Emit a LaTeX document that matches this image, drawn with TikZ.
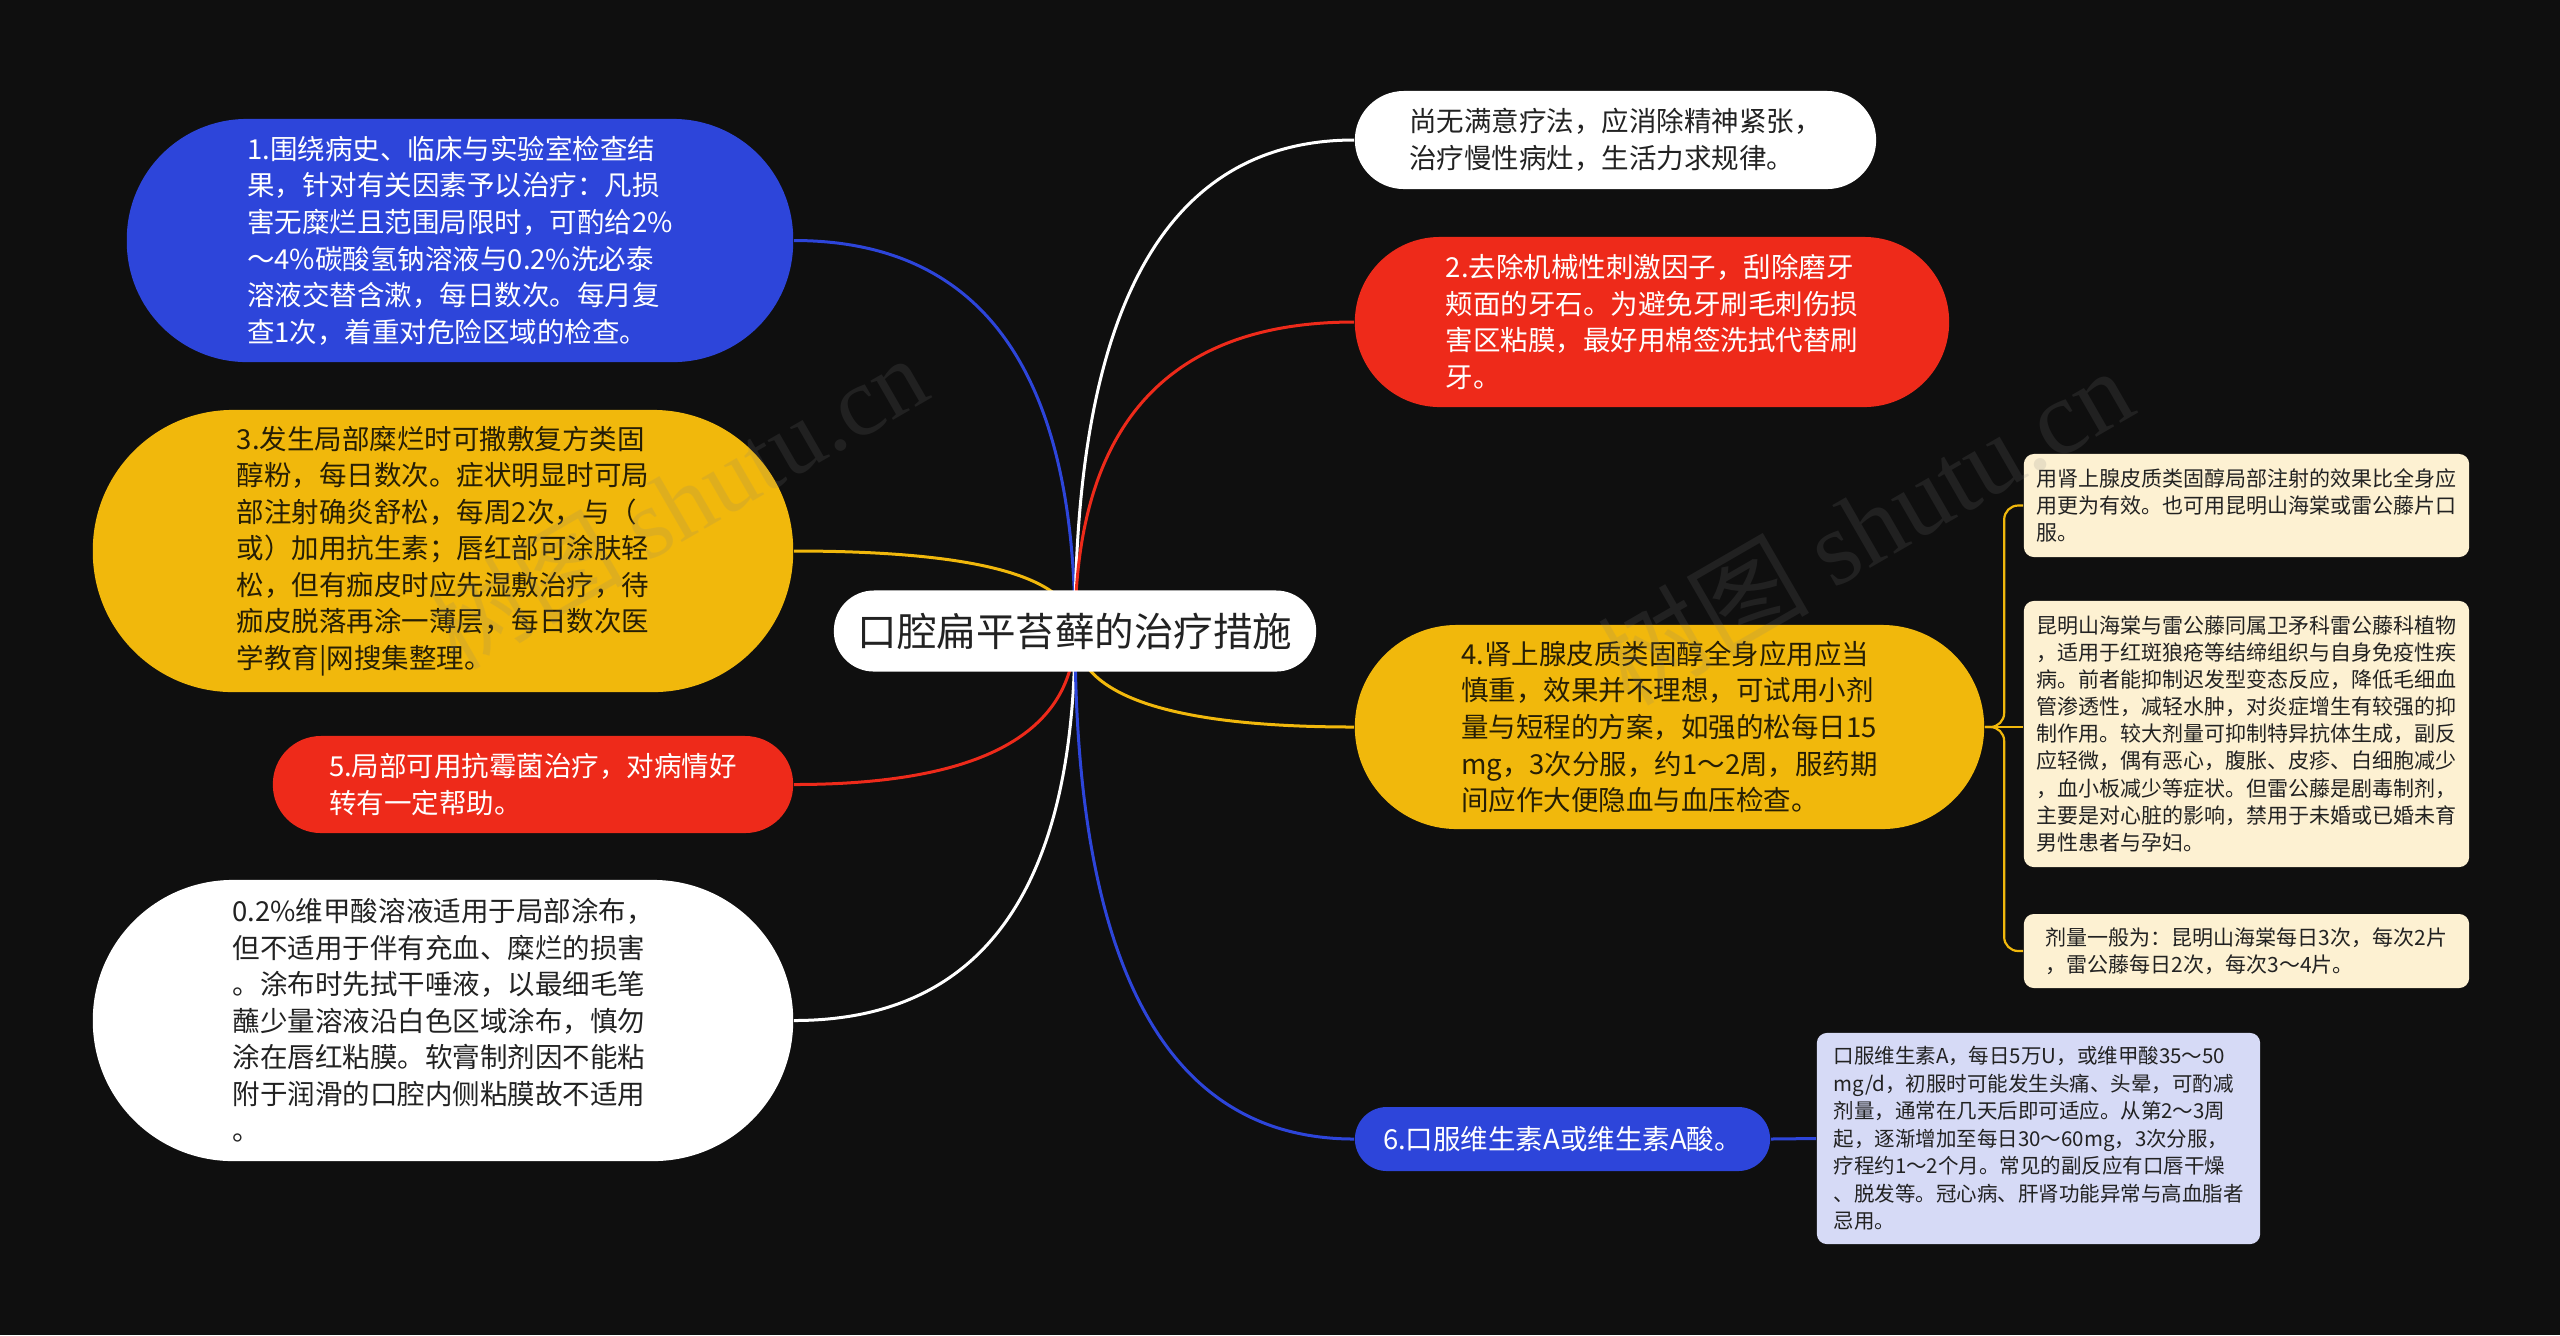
\documentclass[tikz,border=0pt]{standalone}
\usepackage{fontspec}
\setmainfont{Noto Sans CJK SC}
\newfontfamily\wmserif{Liberation Serif}
\usetikzlibrary{calc,backgrounds}
\definecolor{bgc}{HTML}{0F0F0F}
\definecolor{cblue}{HTML}{2D45DA}
\definecolor{cred}{HTML}{EE2A1A}
\definecolor{cyel}{HTML}{F1B80C}
\definecolor{ccream}{HTML}{FDF1D2}
\definecolor{clav}{HTML}{D6DAF6}
\definecolor{cdark}{HTML}{222222}
\definecolor{cydark}{HTML}{261E05}
\newcommand\fsroot{\fontsize{11.24pt}{13pt}\selectfont}
\newcommand\fsmain{\fontsize{7.82pt}{10.39pt}\selectfont}
\newcommand\fsleaf{\fontsize{5.97pt}{7.68pt}\selectfont}
\newcommand\fsleafd{\fontsize{5.83pt}{7.82pt}\selectfont}
\newcommand\qconn[3]{%
  \coordinate (ctl#2) at (root.center |- #2.#3);
  \draw[#1] (root.center) .. controls ($(root.center)!0.6667!(ctl#2)$) and ($(#2.#3)!0.6667!(ctl#2)$) .. (#2.#3);}
\tikzset{
  pill/.style n args={3}{minimum width=#1cm, minimum height=#2cm, rounded corners=#3cm, inner sep=0pt, align=left},
  leafbox/.style n args={2}{minimum width=#1cm, minimum height=#2cm, rounded corners=0.1cm, inner sep=0pt, align=left, font=\fsleaf, text=cdark},
  conn/.style={line width=0.03cm},
  lconn/.style={line width=0.022cm, cyel, rounded corners=0.14cm},
  wm/.style={rotate=30, opacity=0.16, text=gray}
}
\begin{document}
\begin{tikzpicture}[x=0.01cm, y=-0.01cm]
\useasboundingbox (0,0) rectangle (2560,1335);

% root
\node[pill={4.82}{0.81}{0.40}, fill=white, text=cdark, font=\fsroot] (root) at (1075,631) {口腔扁平苔藓的治疗措施};

% left children
\node[pill={6.66}{2.43}{1.20}, fill=cblue, text=white, font=\fsmain] (n1) at (460,240.5) {1.围绕病史、临床与实验室检查结\\果，针对有关因素予以治疗：凡损\\害无糜烂且范围局限时，可酌给2\%\\～4\%碳酸氢钠溶液与0.2\%洗必泰\\溶液交替含漱，每日数次。每月复\\查1次，着重对危险区域的检查。};

\node[pill={7.00}{2.82}{1.40}, fill=cyel, text=cydark, font=\fsmain] (n3) at (443,551) {3.发生局部糜烂时可撒敷复方类固\\醇粉，每日数次。症状明显时可局\\部注射确炎舒松，每周2次，与（\\或）加用抗生素；唇红部可涂肤轻\\松，但有痂皮时应先湿敷治疗，待\\痂皮脱落再涂一薄层，每日数次医\\学教育|网搜集整理。};

\node[pill={5.20}{0.97}{0.48}, fill=cred, text=white, font=\fsmain] (n5) at (533,784.5) {5.局部可用抗霉菌治疗，对病情好\\转有一定帮助。};

\node[pill={7.00}{2.81}{1.40}, fill=white, text=cdark, font=\fsmain] (nw) at (443,1020.5) {0.2\%维甲酸溶液适用于局部涂布，\\但不适用于伴有充血、糜烂的损害\\。涂布时先拭干唾液，以最细毛笔\\蘸少量溶液沿白色区域涂布，慎勿\\涂在唇红粘膜。软膏制剂因不能粘\\附于润滑的口腔内侧粘膜故不适用\\。};

% right children
\node[pill={5.21}{0.98}{0.49}, fill=white, text=cdark, font=\fsmain] (nt) at (1615.5,140) {尚无满意疗法，应消除精神紧张，\\治疗慢性病灶，生活力求规律。};

\node[pill={5.94}{1.70}{0.85}, fill=cred, text=white, font=\fsmain] (n2) at (1652,322) {2.去除机械性刺激因子，刮除磨牙\\颊面的牙石。为避免牙刷毛刺伤损\\害区粘膜，最好用棉签洗拭代替刷\\牙。};

\node[pill={6.29}{2.04}{1.02}, fill=cyel, text=cydark, font=\fsmain] (n4) at (1669.5,727) {4.肾上腺皮质类固醇全身应用应当\\慎重，效果并不理想，可试用小剂\\量与短程的方案，如强的松每日15\\mg，3次分服，约1～2周，服药期\\间应作大便隐血与血压检查。};

\node[pill={4.15}{0.64}{0.32}, fill=cblue, text=white, font=\fsmain] (n6) at (1562.5,1139) {6.口服维生素A或维生素A酸。};

% leaves
\node[leafbox={4.45}{1.03}, fill=ccream] (la) at (2246.5,505.5) {用肾上腺皮质类固醇局部注射的效果比全身应\\用更为有效。也可用昆明山海棠或雷公藤片口\\服。};

\node[leafbox={4.45}{2.66}, fill=ccream] (lb) at (2246.5,734) {昆明山海棠与雷公藤同属卫矛科雷公藤科植物\\，适用于红斑狼疮等结缔组织与自身免疫性疾\\病。前者能抑制迟发型变态反应，降低毛细血\\管渗透性，减轻水肿，对炎症增生有较强的抑\\制作用。较大剂量可抑制特异抗体生成，副反\\应轻微，偶有恶心，腹胀、皮疹、白细胞减少\\，血小板减少等症状。但雷公藤是剧毒制剂，\\主要是对心脏的影响，禁用于未婚或已婚未育\\男性患者与孕妇。};

\node[leafbox={4.45}{0.74}, fill=ccream] (lc) at (2246.5,951) {剂量一般为：昆明山海棠每日3次，每次2片\\，雷公藤每日2次，每次3～4片。};

\node[leafbox={4.43}{2.11}, fill=clav, font=\fsleafd] (ld) at (2038.5,1138.5) {口服维生素A，每日5万U，或维甲酸35～50\\mg/d，初服时可能发生头痛、头晕，可酌减\\剂量，通常在几天后即可适应。从第2～3周\\起，逐渐增加至每日30～60mg，3次分服，\\疗程约1～2个月。常见的副反应有口唇干燥\\、脱发等。冠心病、肝肾功能异常与高血脂者\\忌用。};

% watermarks
\node[wm] (wm1) at (677,502) {\fontsize{28pt}{28pt}\selectfont 树图 {\wmserif shutu.cn}};
\node[wm] (wm2) at (1865,525) {\fontsize{30pt}{30pt}\selectfont 树图 {\wmserif shutu.cn}};

\begin{scope}[on background layer]
\fill[bgc] (0,0) rectangle (2560,1335);
\qconn{conn, cblue}{n1}{east}
\qconn{conn, cyel}{n3}{east}
\qconn{conn, cred}{n5}{east}
\qconn{conn, white}{nw}{east}
\qconn{conn, white}{nt}{west}
\qconn{conn, cred}{n2}{west}
\qconn{conn, cyel}{n4}{west}
\qconn{conn, cblue}{n6}{west}
\coordinate (tka) at ($(la.west)+(-19,0)$);
\coordinate (tkc) at ($(lc.west)+(-19,0)$);
\draw[lconn] (n4.east) -| (tka) -- (la.west);
\draw[lconn] (n4.east) -- (n4.east -| lb.west);
\draw[lconn] (n4.east) -| (tkc) -- (lc.west);
\draw[conn, cblue] (n6.east) -- (ld.west);
\end{scope}
\end{tikzpicture}
\end{document}
